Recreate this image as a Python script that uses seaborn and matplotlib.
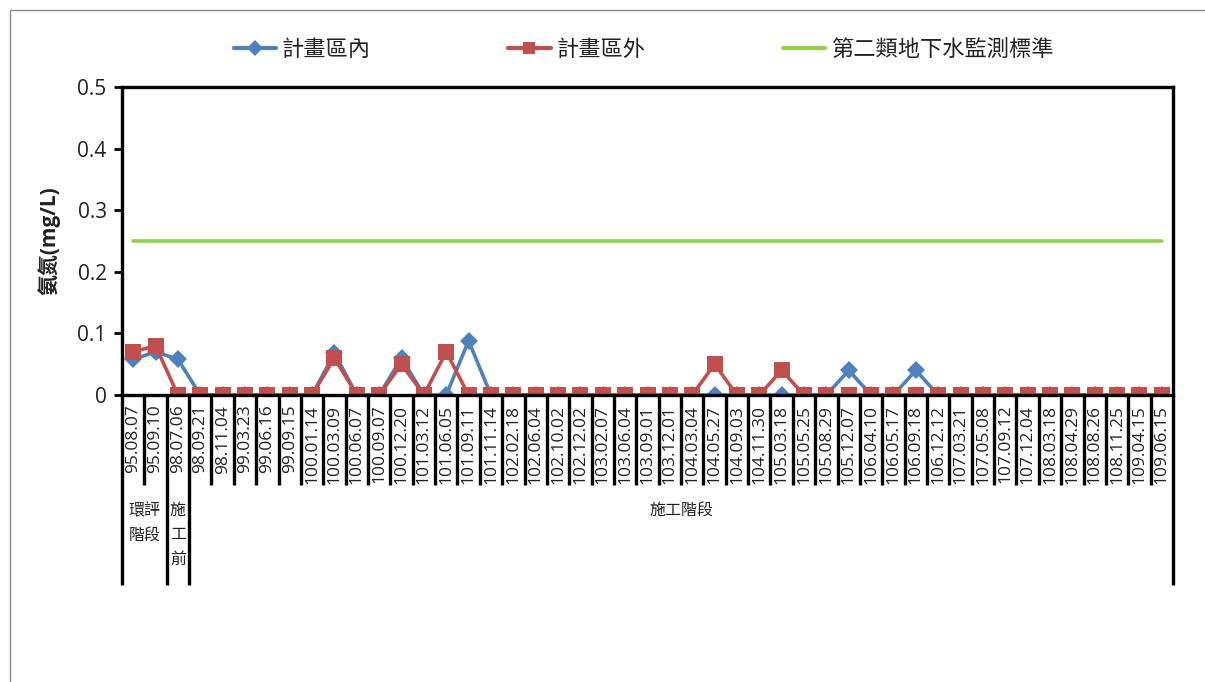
import pandas as pd
import matplotlib.pyplot as plt
import matplotlib.transforms as mtransforms
from matplotlib.patches import Rectangle
from matplotlib.lines import Line2D
import seaborn as sns

# sampling dates (ROC calendar)
dates = ['95.08.07', '95.09.10', '98.07.06', '98.09.21', '98.11.04', '99.03.23',
         '99.06.16', '99.09.15', '100.01.14', '100.03.09', '100.06.07', '100.09.07',
         '100.12.20', '101.03.12', '101.06.05', '101.09.11', '101.11.14', '102.02.18',
         '102.06.04', '102.10.02', '102.12.02', '103.02.07', '103.06.04', '103.09.01',
         '103.12.01', '104.03.04', '104.05.27', '104.09.03', '104.11.30', '105.03.18',
         '105.05.25', '105.08.29', '105.12.07', '106.04.10', '106.05.17', '106.09.18',
         '106.12.12', '107.03.21', '107.05.08', '107.09.12', '107.12.04', '108.03.18',
         '108.04.29', '108.08.26', '108.11.25', '109.04.15', '109.06.15']

inside = [0.058, 0.07, 0.058, 0, 0, 0, 0, 0, 0, 0.068, 0, 0,
          0.06, 0, 0, 0.088, 0, 0, 0, 0, 0, 0, 0, 0,
          0, 0, 0, 0, 0, 0, 0, 0, 0.04, 0, 0, 0.04,
          0, 0, 0, 0, 0, 0, 0, 0, 0, 0, 0]
outside = [0.07, 0.08, 0, 0, 0, 0, 0, 0, 0, 0.06, 0, 0,
           0.05, 0, 0.07, 0, 0, 0, 0, 0, 0, 0, 0, 0,
           0, 0, 0.05, 0, 0, 0.04, 0, 0, 0, 0, 0, 0,
           0, 0, 0, 0, 0, 0, 0, 0, 0, 0, 0]
std_limit = 0.25

# stage groups: (label, first index, last index)
groups = [('環評\n階段', 0, 1), ('施\n工\n前', 2, 2), ('施工階段', 3, 46)]

df = pd.DataFrame({'x': range(len(dates)), 'date': dates,
                   'inside': inside, 'outside': outside,
                   'std': [std_limit] * len(dates)})

blue, red, green = '#4F81BD', '#C0504D', '#92D050'

sns.set_style('white')
plt.rcParams['font.family'] = ['Open Sans', 'Noto Sans CJK TC', 'DejaVu Sans']
txt = '#222222'

W, H = 1205, 682
fig = plt.figure(figsize=(W / 100, H / 100), dpi=100)
x0, x1, y0, y1 = 122, 1173, 87, 395
ax = fig.add_axes([x0 / W, 1 - y1 / H, (x1 - x0) / W, (y1 - y0) / H])

sns.lineplot(data=df, x='x', y='inside', ax=ax, color=blue, lw=2.6,
             marker='D', markersize=9, markeredgewidth=0, legend=False)
sns.lineplot(data=df, x='x', y='outside', ax=ax, color=red, lw=2.6,
             marker='s', markersize=12, markeredgewidth=0, legend=False)
sns.lineplot(data=df, x='x', y='std', ax=ax, color=green, lw=2.6, legend=False)

ax.set_xlim(-0.5, len(dates) - 0.5)
ax.set_ylim(0, 0.5)
ax.set_yticks([0, 0.1, 0.2, 0.3, 0.4, 0.5])
ax.set_yticklabels(['0', '0.1', '0.2', '0.3', '0.4', '0.5'], fontsize=15, color=txt)
ax.set_xticks(range(len(dates)))
ax.set_xticklabels(dates, rotation=90, fontsize=12.5, color=txt, va='top')
ax.tick_params(axis='x', length=0, pad=7)
ax.tick_params(axis='y', length=6, width=2, color='black', left=True, direction='out', pad=5)
ax.set_xlabel('')
ax.set_ylabel('氨氮(mg/L)', fontsize=15, fontweight='bold', labelpad=12, color=txt)
for s in ax.spines.values():
    s.set_linewidth(2.4)
    s.set_color('black')

# category table lines under the axis
trans = mtransforms.blended_transform_factory(ax.transData, ax.transAxes)
h = y1 - y0
short = -(485 - y1) / h
long_ = -(585 - y1) / h
edges = set()
for _, a, b in groups:
    edges.add(a - 0.5)
    edges.add(b + 0.5)
for i in range(len(dates) + 1):
    xe = i - 0.5
    bot = long_ if xe in edges else short
    ax.plot([xe, xe], [0, bot], color='black', lw=2.4, transform=trans,
            clip_on=False, solid_capstyle='butt')

for lab, a, b in groups:
    ax.text((a + b) / 2, -(503 - y1) / h, lab, transform=trans, ha='center',
            va='top', fontsize=11.5, color=txt, linespacing=1.7)

# legend
handles = [Line2D([], [], color=blue, lw=3, marker='D', markersize=8, markeredgewidth=0),
           Line2D([], [], color=red, lw=3, marker='s', markersize=9, markeredgewidth=0),
           Line2D([], [], color=green, lw=3)]
labels = ['計畫區內', '計畫區外', '第二類地下水監測標準']
fig.legend(handles, labels, loc='center', bbox_to_anchor=(0.534, 1 - 50 / H),
           ncol=3, frameon=False, fontsize=16, handlelength=1.9,
           columnspacing=6.2, handletextpad=0.25, labelcolor=txt)

# outer chart border
fig.patches.append(Rectangle((10 / W, -0.1), 1.2, 1 - 10 / H + 0.1,
                             transform=fig.transFigure, fill=False,
                             edgecolor='#8c8c8c', lw=1))

fig.savefig('out.png', dpi=100)
